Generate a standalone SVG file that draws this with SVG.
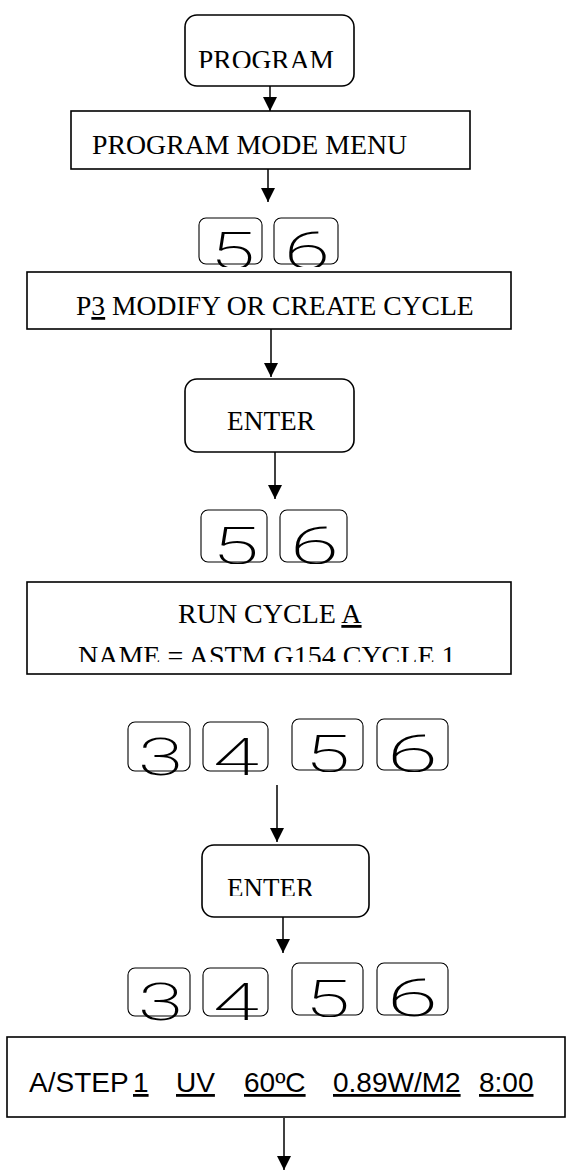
<svg xmlns="http://www.w3.org/2000/svg" width="568" height="1171" viewBox="0 0 568 1171">
  <style>
    .box { fill: #fff; stroke: #000; stroke-width: 1.6; }
    .btn { fill: #fff; stroke: #000; stroke-width: 1.6; }
    .key { fill: #fff; stroke: #000; stroke-width: 1.1; }
    .serif { font-family: "Liberation Serif", "Times New Roman", serif; fill: #000; }
    .sans { font-family: "Liberation Sans", Arial, sans-serif; fill: #000; font-size: 28px; }
    .digit { font-family: Roboto, "Liberation Sans", Arial, sans-serif; font-weight: 200; font-size: 52px; fill: #000; }
    .u { text-decoration: underline; }
    .conn { stroke: #000; stroke-width: 1.5; fill: none; marker-end: url(#arrow); }
  </style>
  <defs>
    <marker id="arrow" viewBox="0 0 14 14" refX="14" refY="7" markerWidth="14" markerHeight="14" markerUnits="userSpaceOnUse" orient="auto">
      <path d="M0,0 L14,7 L0,14 z" fill="#000"/>
    </marker>
    <!-- text clipped at the lower edge of its frame -->
    <clipPath id="clip-program" clipPathUnits="userSpaceOnUse"><rect x="0" y="0" width="568" height="68"/></clipPath>
    <clipPath id="clip-name" clipPathUnits="userSpaceOnUse"><rect x="0" y="0" width="568" height="662"/></clipPath>
    <clipPath id="clip-enter2" clipPathUnits="userSpaceOnUse"><rect x="0" y="0" width="568" height="896"/></clipPath>
    <!-- digit clipping per key row -->
    <clipPath id="clip-r1" clipPathUnits="userSpaceOnUse"><rect x="0" y="0" width="568" height="267"/></clipPath>
    <clipPath id="clip-r2" clipPathUnits="userSpaceOnUse"><rect x="0" y="0" width="568" height="564"/></clipPath>
    <clipPath id="clip-r3a" clipPathUnits="userSpaceOnUse"><rect x="0" y="0" width="568" height="777"/></clipPath>
    <clipPath id="clip-r3b" clipPathUnits="userSpaceOnUse"><rect x="0" y="0" width="568" height="772"/></clipPath>
    <clipPath id="clip-r4a" clipPathUnits="userSpaceOnUse"><rect x="0" y="0" width="568" height="1023"/></clipPath>
    <clipPath id="clip-r4b" clipPathUnits="userSpaceOnUse"><rect x="0" y="0" width="568" height="1017"/></clipPath>
  </defs>

  <rect width="568" height="1171" fill="#fff"/>

  <!-- connectors -->
  <g id="connectors">
    <line class="conn" x1="270" y1="86" x2="270" y2="111"/>
    <line class="conn" x1="268" y1="169" x2="268" y2="202"/>
    <line class="conn" x1="271" y1="329" x2="271" y2="377"/>
    <line class="conn" x1="275" y1="452" x2="275" y2="499"/>
    <line class="conn" x1="277" y1="785" x2="277" y2="842"/>
    <line class="conn" x1="283" y1="917" x2="283" y2="953"/>
    <line class="conn" x1="284" y1="1118" x2="284" y2="1170"/>
  </g>

  <g id="program">
    <rect class="btn" x="185" y="15" width="169" height="71" rx="12"/>
    <text class="serif" x="198" y="69" font-size="27.5" clip-path="url(#clip-program)">PROGRAM</text>
  </g>

  <g id="program-mode-menu">
    <rect class="box" x="71" y="111" width="399" height="58"/>
    <text class="serif" x="92" y="154" font-size="27.8">PROGRAM MODE MENU</text>
  </g>

  <g id="keys-1">
    <rect class="key" x="199" y="218" width="63" height="46" rx="7"/>
    <rect class="key" x="274" y="218" width="64" height="46" rx="7"/>
    <g clip-path="url(#clip-r1)">
      <text class="digit" x="210" y="269" textLength="45" lengthAdjust="spacingAndGlyphs">5</text>
      <text class="digit" x="284" y="269" textLength="46" lengthAdjust="spacingAndGlyphs">6</text>
    </g>
  </g>

  <g id="p3-modify">
    <rect class="box" x="27" y="272" width="484" height="57"/>
    <text class="serif" x="76" y="315" font-size="27.6">P<tspan class="u">3</tspan> MODIFY OR CREATE CYCLE</text>
  </g>

  <g id="enter-1">
    <rect class="btn" x="185" y="379" width="169" height="73" rx="12"/>
    <text class="serif" x="227" y="430" font-size="27.3">ENTER</text>
  </g>

  <g id="keys-2">
    <rect class="key" x="201" y="510" width="66" height="52" rx="7"/>
    <rect class="key" x="280" y="510" width="67" height="52" rx="7"/>
    <g clip-path="url(#clip-r2)">
      <text class="digit" x="212" y="564" textLength="47" lengthAdjust="spacingAndGlyphs">5</text>
      <text class="digit" x="290" y="564" textLength="49" lengthAdjust="spacingAndGlyphs">6</text>
    </g>
  </g>

  <g id="run-cycle">
    <rect class="box" x="27" y="582" width="484" height="92"/>
    <text class="serif" x="178" y="623" font-size="28">RUN CYCLE <tspan class="u">A</tspan></text>
    <text class="serif" x="78" y="665" font-size="28" clip-path="url(#clip-name)">NAME = ASTM G154 CYCLE 1</text>
  </g>

  <g id="keys-3">
    <rect class="key" x="128" y="722" width="62" height="49" rx="7"/>
    <rect class="key" x="203" y="722" width="65" height="49" rx="7"/>
    <rect class="key" x="292" y="719" width="71" height="51" rx="7"/>
    <rect class="key" x="377" y="719" width="71" height="51" rx="7"/>
    <g clip-path="url(#clip-r3a)">
      <text class="digit" x="138" y="775" textLength="45" lengthAdjust="spacingAndGlyphs">3</text>
      <text class="digit" x="213" y="775" textLength="46" lengthAdjust="spacingAndGlyphs">4</text>
    </g>
    <g clip-path="url(#clip-r3b)">
      <text class="digit" x="305" y="772" textLength="45" lengthAdjust="spacingAndGlyphs">5</text>
      <text class="digit" x="387" y="772" textLength="51" lengthAdjust="spacingAndGlyphs">6</text>
    </g>
  </g>

  <g id="enter-2">
    <rect class="btn" x="202" y="845" width="167" height="72" rx="12"/>
    <text class="serif" x="227" y="897" font-size="27" clip-path="url(#clip-enter2)">ENTER</text>
  </g>

  <g id="keys-4">
    <rect class="key" x="128" y="968" width="62" height="48" rx="7"/>
    <rect class="key" x="203" y="968" width="65" height="48" rx="7"/>
    <rect class="key" x="292" y="963" width="71" height="52" rx="7"/>
    <rect class="key" x="377" y="963" width="71" height="52" rx="7"/>
    <g clip-path="url(#clip-r4a)">
      <text class="digit" x="138" y="1020" textLength="45" lengthAdjust="spacingAndGlyphs">3</text>
      <text class="digit" x="213" y="1020" textLength="46" lengthAdjust="spacingAndGlyphs">4</text>
    </g>
    <g clip-path="url(#clip-r4b)">
      <text class="digit" x="305" y="1017" textLength="45" lengthAdjust="spacingAndGlyphs">5</text>
      <text class="digit" x="387" y="1016" textLength="51" lengthAdjust="spacingAndGlyphs">6</text>
    </g>
  </g>

  <g id="step-line">
    <rect class="box" x="7" y="1037" width="558" height="80"/>
    <text class="sans" y="1092">
      <tspan x="29">A/STEP</tspan>
      <tspan x="133" class="u">1</tspan>
      <tspan x="176" class="u">UV</tspan>
      <tspan x="244" class="u">60ºC</tspan>
      <tspan x="333" class="u">0.89W/M2</tspan>
      <tspan x="479" class="u">8:00</tspan>
    </text>
  </g>
</svg>
